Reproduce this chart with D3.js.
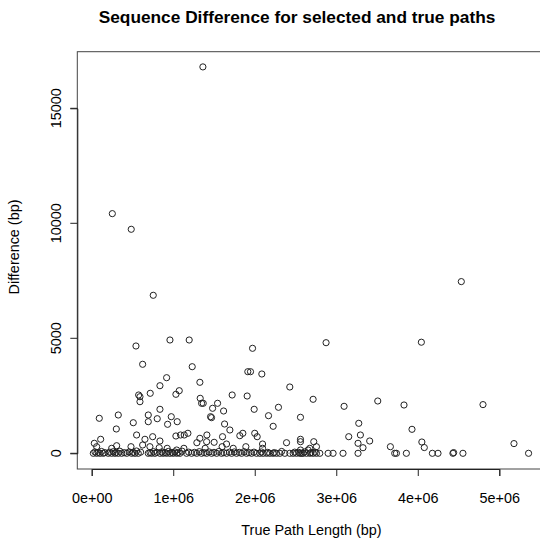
<!DOCTYPE html>
<html>
<head>
<meta charset="utf-8">
<script src="https://cdn.jsdelivr.net/npm/d3@7"></script>
<style>
  body { margin: 0; background: #fff; }
  svg { display: block; }
  text { font-family: "Liberation Sans", Arial, sans-serif; fill: #000; }
</style>
</head>
<body>
<svg id="plot" width="540" height="546"></svg>
<script>

// 軸の目盛り
const xTicks = [0, 1e6, 2e6, 3e6, 4e6, 5e6];
const xTickLabels = ["0e+00", "1e+06", "2e+06", "3e+06", "4e+06", "5e+06"];
const yTicks = [0, 5000, 10000, 15000];
const yTickLabels = ["0", "5000", "10000", "15000"];

// 差分が大きい点 (True Path Length, Difference)
const pathLen = [
  1364000, 253000, 485000, 755000, 4534000, 4044000, 4800000, 5180000,
  4050000, 4080000, 2875000, 543000, 960000, 1196000, 1973000, 625000,
  1233000, 919000, 837000, 1327000, 1915000, 1948000, 576000, 592000,
  592000, 718000, 1033000, 1074000, 1331000, 1348000, 1368000, 1723000,
  1907000, 1993000, 1544000, 1483000, 1618000, 1458000, 1470000, 837000,
  694000, 694000, 804000, 976000, 1049000, 931000, 93000, 326000,
  302000, 510000, 1630000, 1695000, 1854000, 1817000, 1605000, 1180000,
  1135000, 1090000, 1033000, 1327000, 1413000, 551000, 748000, 653000,
  837000, 110000, 32000, 2000000, 1290000, 1410000, 1502000, 625000,
  482000, 306000, 245000, 61000, 714000, 1654000, 1736000, 1891000,
  1600000, 1131000, 926000, 828000, 1392000, 1042000,
  2087000, 2430000, 2716000, 2291000, 2169000, 2561000, 2226000, 3096000,
  3509000, 3831000, 3929000, 3276000, 3296000, 3153000, 3410000, 3267000,
  3328000, 3664000, 2030000, 2096000, 2096000, 2390000, 2561000, 2561000,
  2724000, 2757000, 2675000, 2655000, 2561000
];
const seqDiff = [
  16800, 10420, 9740, 6870, 7465, 4830, 2117, 422,
  491, 250, 4809, 4665, 4926, 4926, 4565, 3870,
  3765, 3287, 2939, 3087, 3548, 3548, 2535, 2461,
  2243, 2609, 2565, 2722, 2391, 2174, 2174, 2535,
  2491, 1913, 2174, 1957, 1839, 1591, 1550, 1913,
  1665, 1374, 1504, 1591, 1374, 1261, 1522, 1665,
  1057, 1330, 1274, 1013, 870, 765, 722, 870,
  796, 796, 752, 652, 796, 796, 722, 609,
  535, 609, 435, 870, 461, 504, 478, 361,
  287, 330, 217, 287, 287, 404, 217, 287,
  287, 217, 217, 243, 217, 143,
  3448, 2883, 2348, 2000, 1635, 1565, 1174, 2043,
  2274, 2100, 1043, 1304, 796, 722, 535, 435,
  243, 287, 722, 404, 217, 461, 609, 504,
  504, 287, 217, 143, 143
];

// 差分がほぼ 0 の点
const zeroLen = [
  20000, 61000, 102000, 142000, 203000, 245000, 286000, 326000, 368000,
  429000, 490000, 531000, 571000, 694000, 735000, 776000, 837000, 877000,
  919000, 960000, 1000000, 1042000, 1082000, 1164000, 1225000, 1287000,
  1348000, 1409000, 1471000, 1532000, 1593000, 1654000, 1716000, 1777000,
  1838000, 1900000, 1961000, 2022000, 2063000, 2103000, 2145000, 2185000,
  2225000, 2267000, 2308000, 2369000, 2430000, 2471000, 2512000, 2553000,
  2574000, 2593000, 2635000, 2675000, 2716000, 2757000, 2798000, 2900000,
  2961000, 3083000, 3267000, 3717000, 3738000, 3860000, 4179000, 4248000,
  4431000, 4440000, 4554000, 5359000,
  40000, 80000, 120000, 160000, 220000, 265000, 300000, 345000, 400000,
  460000, 510000, 550000, 600000, 715000, 760000, 800000, 860000, 900000,
  940000, 985000, 1020000, 1060000, 1110000, 1190000, 1260000, 1320000,
  1380000, 1440000, 1500000, 1560000, 1620000, 1690000, 1750000, 1810000,
  1870000, 1930000, 1990000, 2080000, 2160000, 2240000, 2330000, 2490000,
  2540000, 2610000, 2690000, 2740000
];
const zeroDiff = [
  0, 0, 0, 0, 0, 0, 0, 0, 0,
  0, 0, 0, 0, 0, 0, 0, 0, 0,
  0, 0, 0, 0, 0, 0, 0, 0,
  0, 0, 0, 0, 0, 0, 0, 0,
  0, 0, 0, 0, 0, 0, 0, 0,
  0, 0, 0, 0, 0, 0, 0, 0,
  0, 0, 0, 0, 0, 0, 0, 0,
  0, 0, 0, 0, 0, 0, 0, 0,
  0, 30, 0, 0,
  60, 40, 80, 30, 50, 70, 40, 90, 30,
  60, 40, 100, 50, 30, 70, 40, 60, 30,
  80, 40, 60, 30, 90, 50, 40, 70,
  30, 60, 40, 80, 30, 50, 60, 40,
  70, 30, 50, 60, 40, 30, 80, 50,
  40, 60, 30, 50
];

// SVG 要素を取得する
const svg = d3.select("#plot");

// プロット領域 (R の box)
const box = { left: 77.3, right: 545, top: 51.7, bottom: 469 };

// スケール
const x = d3.scaleLinear().domain([0, 5e6]).range([91.7, 499.3]);
const y = d3.scaleLinear().domain([0, 15000]).range([453.3, 108.3]);

// 点を描画する
const points = pathLen.map((d, i) => [d, seqDiff[i]])
  .concat(zeroLen.map((d, i) => [d, zeroDiff[i]]));

svg.append("g")
  .attr("class", "points")
  .selectAll("circle")
  .data(points)
  .enter()
  .append("circle")
  .attr("cx", d => x(d[0]))
  .attr("cy", d => y(d[1]))
  .attr("r", 3.1)
  .attr("fill", "none")
  .attr("stroke", "#222")
  .attr("stroke-width", 1);

// 枠を描画する
svg.append("rect")
  .attr("x", box.left)
  .attr("y", box.top)
  .attr("width", box.right - box.left)
  .attr("height", box.bottom - box.top)
  .attr("fill", "none")
  .attr("stroke", "#444")
  .attr("stroke-width", 1);

// x 軸
const xAxis = svg.append("g")
  .attr("transform", `translate(0,${box.bottom})`)
  .call(d3.axisBottom(x)
    .tickValues(xTicks)
    .tickSize(7)
    .tickFormat((d, i) => xTickLabels[i]));
xAxis.selectAll("path, line").attr("stroke", "#222");
xAxis.selectAll("text")
  .attr("y", 33.5)
  .attr("dy", null)
  .attr("font-size", "14.4px")
  .attr("font-family", null);

// y 軸 (ラベルは軸と平行)
const yAxis = svg.append("g")
  .attr("transform", `translate(${box.left},0)`)
  .call(d3.axisLeft(y)
    .tickValues(yTicks)
    .tickSize(7)
    .tickFormat((d, i) => yTickLabels[i]));
yAxis.selectAll("path, line").attr("stroke", "#222");
yAxis.selectAll("text")
  .attr("x", null)
  .attr("dy", null)
  .attr("text-anchor", "middle")
  .attr("font-size", "14.4px")
  .attr("font-family", null)
  .attr("transform", d => `translate(-16,${y(d)}) rotate(-90)`)
  .attr("y", 0);
yAxis.selectAll(".tick").attr("transform", null);
yAxis.selectAll(".tick line").attr("y1", d => y(d)).attr("y2", d => y(d));

// タイトル
svg.append("text")
  .attr("x", 297)
  .attr("y", 23)
  .attr("text-anchor", "middle")
  .attr("font-size", "17.3px")
  .attr("font-weight", "bold")
  .text("Sequence Difference for selected and true paths");

// 軸タイトル
svg.append("text")
  .attr("x", 311.5)
  .attr("y", 535)
  .attr("text-anchor", "middle")
  .attr("font-size", "14.4px")
  .text("True Path Length (bp)");

svg.append("text")
  .attr("transform", "translate(19,247) rotate(-90)")
  .attr("text-anchor", "middle")
  .attr("font-size", "14.4px")
  .text("Difference (bp)");

</script>
</body>
</html>
